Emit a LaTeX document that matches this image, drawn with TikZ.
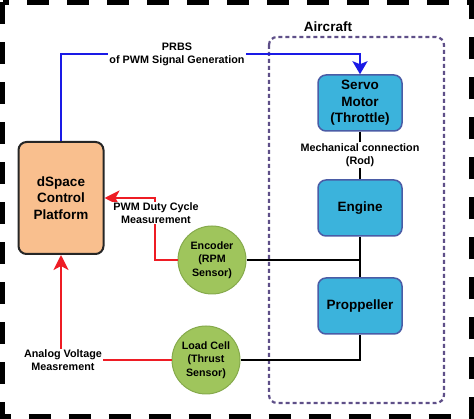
\documentclass[tikz,border=0pt]{standalone}
\usepackage{fontspec}
\setmainfont{Liberation Sans}
\usetikzlibrary{arrows.meta}
\definecolor{boxblue}{HTML}{3BB3DC}
\definecolor{boxedge}{HTML}{4A5CA6}
\definecolor{orangefill}{HTML}{F9BF8E}
\definecolor{greenfill}{HTML}{9FC55C}
\definecolor{greenedge}{HTML}{86AA4C}
\definecolor{acpurple}{HTML}{5E4F88}
\definecolor{sigred}{HTML}{EE1C24}
\definecolor{sigblue}{HTML}{1A1AE6}
\tikzset{
  bigtext/.style={font=\bfseries\fontsize{13.5}{16.5}\selectfont, align=center},
  smalltext/.style={font=\bfseries\fontsize{10.8}{13}\selectfont, align=center},
  acbox/.style={bigtext, draw=boxedge, line width=1.5pt, fill=boxblue, rounded corners=8pt, minimum width=84pt, minimum height=56pt, inner sep=0pt},
  sensor/.style={font=\bfseries\fontsize{10.7}{13.5}\selectfont, align=center, circle, draw=greenedge, line width=1pt, fill=greenfill, minimum size=68pt, inner sep=0pt},
  lbl/.style={smalltext, fill=white, inner sep=1pt},
  redsig/.style={draw=sigred, line width=2.6pt, -{Stealth[length=15pt,width=15pt,inset=4pt]}},
  bluesig/.style={draw=sigblue, line width=2.6pt, -{Stealth[length=13pt,width=15pt,inset=3pt]}},
  mech/.style={draw=black, line width=2pt},
}
\begin{document}
\begin{tikzpicture}[x=1pt,y=-1pt]
\useasboundingbox (0,0) rectangle (474,419);
% outer border
\draw[line width=5pt, dash pattern=on 22pt off 18pt] (2.5,2.5) rectangle (471.5,416.5);
% aircraft frame
\draw[acpurple, line width=2.2pt, dash pattern=on 4pt off 3pt, rounded corners=8pt] (269,37) rectangle (444,403);
\node[bigtext] (ac) at (328,27) {Aircraft};
% boxes
\node[acbox] (servo) at (360,103) {Servo\\Motor\\(Throttle)};
\node[acbox] (engine) at (360,208) {Engine};
\node[acbox] (prop) at (360,306) {Proppeller};
\node[bigtext, draw=black!85, line width=2pt, fill=orangefill, rounded corners=8pt, minimum width=85pt, minimum height=112pt, inner sep=0pt] (dsp) at (61,198) {dSpace\\Control\\Platform};
\node[sensor] (enc) at (212,260) {Encoder\\(RPM\\Sensor)};
\node[sensor] (lc) at (206,360) {Load Cell\\(Thrust\\Sensor)};
% mechanical links
\draw[mech] (servo.south) -- (engine.north);
\node[lbl] (mlab) at (360,155) {Mechanical connection\\(Rod)};
\draw[mech] (engine.south) -- (prop.north);
\draw[mech] (enc.east) -- (engine.south |- enc.east);
\draw[mech] (lc.east) -| (prop.south);
% blue signal
\coordinate (bc) at (360,54);
\draw[bluesig] (dsp.north) |- (bc) -- (servo.north);
\node[lbl] (prbs) at (177,54.5) {PRBS\\of PWM Signal Generation};
% red signals
\coordinate (pc) at (155,198);
\draw[redsig] (enc.west) -| (pc) -- (dsp.east);
\node[lbl] (pwm) at (156,213) {PWM Duty Cycle\\Measurement};
\draw[redsig] (lc.west) -| (dsp.south);
\node[lbl] (ana) at (63,360) {Analog Voltage\\Measrement};
\end{tikzpicture}
\end{document}
